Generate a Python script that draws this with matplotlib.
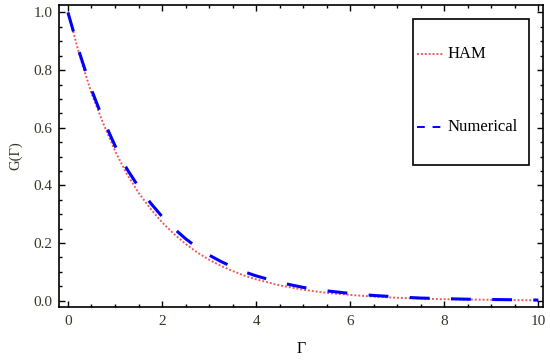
import numpy as np
import matplotlib
matplotlib.use("Agg")
import matplotlib.pyplot as plt
from matplotlib.patches import Rectangle
from matplotlib.ticker import MultipleLocator

# values
gamma = [0, 0.25, 0.5, 0.75, 1, 1.25, 1.5, 1.75, 2, 2.25, 2.5, 2.75, 3, 3.25, 3.5,
         3.75, 4, 4.5, 5, 5.5, 6, 6.5, 7, 7.5, 8, 8.5, 9, 9.5, 10]
g_ham = [1.0, 0.85, 0.72, 0.615, 0.52, 0.44, 0.375, 0.32, 0.272, 0.232, 0.197, 0.167,
         0.142, 0.121, 0.103, 0.087, 0.074, 0.053, 0.038, 0.027, 0.020, 0.014, 0.010,
         0.007, 0.005, 0.004, 0.003, 0.002, 0.001]
g_num = [1.0, 0.858, 0.732, 0.628, 0.538, 0.458, 0.395, 0.340, 0.292, 0.251, 0.215, 0.184,
         0.158, 0.136, 0.117, 0.100, 0.086, 0.063, 0.046, 0.034, 0.025, 0.018, 0.013,
         0.009, 0.007, 0.005, 0.004, 0.003, 0.002]
labels = ["HAM", "Numerical"]

plt.rcParams['font.family'] = ['Liberation Serif', 'DejaVu Serif']

fig = plt.figure(figsize=(5.5, 3.61), dpi=100)
ax = fig.add_axes([0.1073, 0.1496, 0.88, 0.8366])

ax.plot(gamma, g_ham, color='#f05a5a', lw=1.4, dashes=(1, 1))
ax.plot(gamma, g_num, color='#0000ff', lw=2.2, dashes=(6.5, 7))

ax.set_xlim(-0.19, 10.1)
ax.set_ylim(-0.022, 1.026)
ax.xaxis.set_major_locator(MultipleLocator(2))
ax.xaxis.set_minor_locator(MultipleLocator(0.5))
ax.yaxis.set_major_locator(MultipleLocator(0.2))
ax.yaxis.set_minor_locator(MultipleLocator(0.05))
ax.xaxis.set_major_formatter(plt.FuncFormatter(lambda v, p: "%d" % v))
ax.yaxis.set_major_formatter(plt.FuncFormatter(lambda v, p: "%.1f" % v))

ax.tick_params(which='both', direction='in', top=True, right=True, width=1.0,
               colors='black', labelcolor='#3a3326', labelsize=11)
ax.tick_params(which='major', length=4.2)
ax.tick_params(which='minor', length=2.4)
ax.tick_params(axis='x', pad=6)
ax.tick_params(axis='y', pad=4.5)
for s in ax.spines.values():
    s.set_linewidth(1.2)

ax.set_xlabel("Γ", fontsize=11.5, labelpad=9)
ax.set_ylabel("G(Γ)", fontsize=10.5, labelpad=8, color='#3a3326')

# legend box drawn by hand to match the tall frame
ax.add_patch(Rectangle((0.731, 0.470), 0.240, 0.484, transform=ax.transAxes,
                       fill=False, edgecolor='black', lw=1.2))
ax.plot([0.740, 0.793], [0.838, 0.838], transform=ax.transAxes,
        color='#f05a5a', lw=1.4, dashes=(1, 1))
ax.plot([0.740, 0.790], [0.596, 0.596], transform=ax.transAxes,
        color='#0000ff', lw=1.4, dashes=(4, 4))
ax.text(0.802, 0.838, labels[0], transform=ax.transAxes, va='center', fontsize=12)
ax.text(0.802, 0.596, labels[1], transform=ax.transAxes, va='center', fontsize=12)

fig.savefig("out.png", dpi=100)
